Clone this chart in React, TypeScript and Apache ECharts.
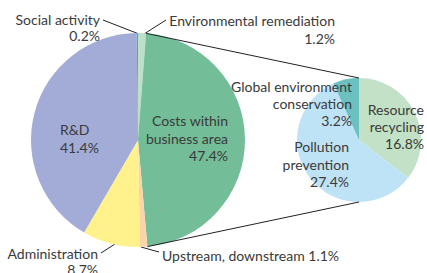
import React, { useEffect, useRef } from "react";
import * as echarts from "echarts";

// ---- data ----
const mainCategories = [
  "Environmental remediation",
  "Costs within business area",
  "Upstream, downstream",
  "Administration",
  "R&D",
  "Social activity",
];
const mainValues = [1.2, 47.4, 1.1, 8.7, 41.4, 0.2];
const mainLabelNames = [
  "Environmental remediation\n",
  "Costs within\nbusiness area\n",
  "Upstream, downstream ",
  "Administration\n",
  "R&D\n",
  "Social activity\n",
];

const subCategories = [
  "Resource recycling",
  "Pollution prevention",
  "Global environment conservation",
];
const subValues = [16.8, 27.4, 3.2];
const subLabelNames = [
  "Resource\nrecycling\n",
  "Pollution\nprevention\n",
  "Global environment\nconservation\n",
];

// ---- styles ----
const mainColors = ["#bfe0c8", "#73bd98", "#fbd5a8", "#fff28c", "#a3acd6", "#3fa9e0"];
const subColors = ["#c2e1c6", "#bfe3f6", "#6cc0bf"];
const TEXT = "#3a3a3a";
const FONT = "Lato";

const MAIN_C = [138, 140];
const MAIN_R = 107;
const SUB_C = [359, 140];
const SUB_R = 62;

// label layouts
const mainLayout: any[] = [
  { x: 335, y: 29, align: "right", lh: 18, line: [[144, 34], [155, 27], [166, 20]] },
  { x: 228, y: 138, align: "right", lh: 17.5 },
  { x: 162, y: 255, align: "left", lh: 17, line: [[141, 247], [150, 249.5], [159, 252]] },
  { x: 98, y: 261, align: "right", lh: 16, line: [[115, 244], [108, 248.5], [101, 253]] },
  { x: 60, y: 138, align: "left", lh: 18 },
  { x: 100, y: 27.5, align: "right", lh: 16, line: [[139, 34], [121, 27], [103, 20]] },
];
const subLayout: any[] = [
  { x: 424, y: 126, align: "right", lh: 17 },
  { x: 349, y: 164, align: "right", lh: 17.5 },
  { x: 352, y: 103, align: "right", lh: 17 },
];

function pt(c: number[], r: number, frac: number) {
  const a = frac * 2 * Math.PI;
  return [c[0] + r * Math.sin(a), c[1] - r * Math.cos(a)];
}

export default function App() {
  const ref = useRef<HTMLDivElement>(null);
  useEffect(() => {
    document.body.style.margin = "0";
    const chart = echarts.init(ref.current!, null, { renderer: "svg" });
    const total = mainValues.reduce((a, b) => a + b, 0);
    const costsStart = mainValues[0] / total;
    const costsEnd = (mainValues[0] + mainValues[1]) / total;
    const p1 = pt(MAIN_C, MAIN_R, costsStart);
    const p2 = pt(MAIN_C, MAIN_R, costsEnd);
    const q1 = pt(SUB_C, SUB_R, 0);
    const q2 = pt(SUB_C, SUB_R, 0.5);

    const labelBase = {
      color: TEXT,
      fontFamily: FONT,
      fontSize: 14,
    };

    chart.setOption({
      animation: false,
      graphic: [
        {
          type: "line",
          shape: { x1: p1[0], y1: p1[1], x2: q1[0], y2: q1[1] },
          style: { stroke: "#222", lineWidth: 1 },
          z: 10,
        },
        {
          type: "line",
          shape: { x1: p2[0], y1: p2[1], x2: q2[0], y2: q2[1] },
          style: { stroke: "#222", lineWidth: 1 },
          z: 10,
        },
      ],
      series: [
        {
          type: "pie",
          center: MAIN_C,
          radius: MAIN_R,
          startAngle: 90,
          clockwise: true,
          avoidLabelOverlap: false,
          minAngle: 0,
          itemStyle: { borderWidth: 0 },
          emphasis: { disabled: true },
          data: mainCategories.map((name, i) => ({
            name,
            value: mainValues[i],
            itemStyle: { color: mainColors[i] },
            label: {
              ...labelBase,
              lineHeight: mainLayout[i].lh,
              position: "outside",
              formatter: () => `${mainLabelNames[i]}${mainValues[i].toFixed(1)}%`,
            },
            labelLine: {
              show: !!mainLayout[i].line,
              lineStyle: { color: "#222", width: 1 },
            },
          })),
          labelLayout: (p: any) => {
            const l = mainLayout[p.dataIndex];
            const o: any = { x: l.x, y: l.y, align: l.align, verticalAlign: "middle" };
            if (l.line) o.labelLinePoints = l.line;
            return o;
          },
        },
        {
          type: "pie",
          center: SUB_C,
          radius: SUB_R,
          startAngle: 90,
          clockwise: true,
          avoidLabelOverlap: false,
          itemStyle: { borderWidth: 0 },
          emphasis: { disabled: true },
          data: subCategories.map((name, i) => ({
            name,
            value: subValues[i],
            itemStyle: { color: subColors[i] },
            label: {
              ...labelBase,
              lineHeight: subLayout[i].lh,
              position: "outside",
              formatter: () => `${subLabelNames[i]}${subValues[i].toFixed(1)}%`,
            },
            labelLine: { show: false },
          })),
          labelLayout: (p: any) => {
            const l = subLayout[p.dataIndex];
            return { x: l.x, y: l.y, align: l.align, verticalAlign: "middle" };
          },
        },
      ],
    });
    return () => chart.dispose();
  }, []);
  return <div ref={ref} style={{ width: 427, height: 273 }} />;
}
